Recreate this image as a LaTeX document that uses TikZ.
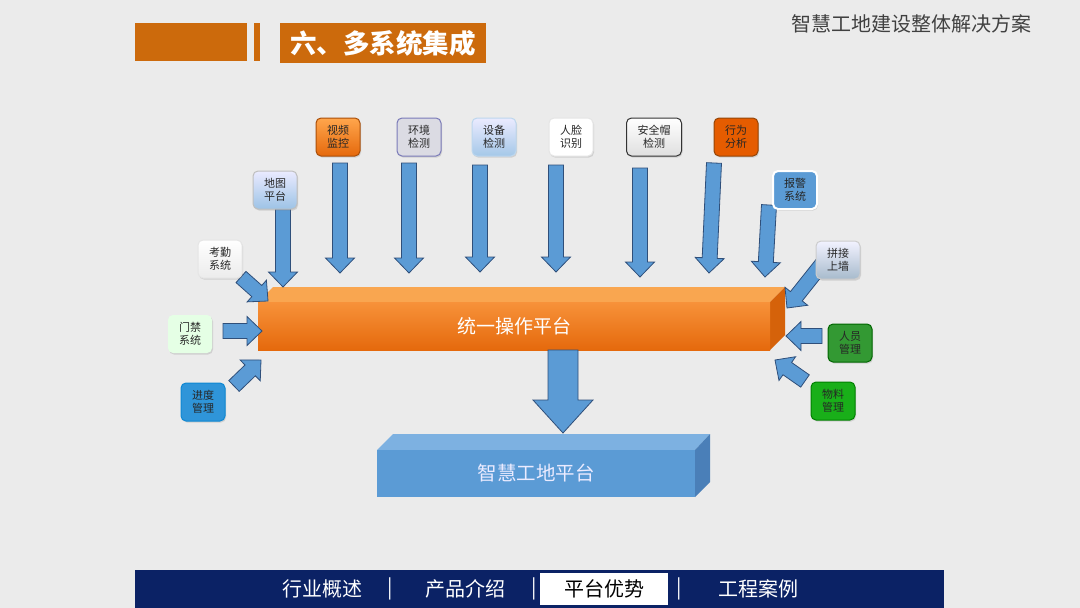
\documentclass[tikz,border=0pt]{standalone}
\usepackage{fontspec}
\setmainfont{Noto Sans CJK SC}
\usetikzlibrary{calc,shadows}
\definecolor{bg}{HTML}{EBEBEB}
\definecolor{hdr}{HTML}{CC6A0C}
\definecolor{navy}{HTML}{0B2265}
\definecolor{arrfill}{HTML}{5B9BD5}
\definecolor{arrline}{HTML}{2F4F7A}
\definecolor{orgA}{HTML}{F7923A}
\definecolor{orgB}{HTML}{E5690C}
\definecolor{orgTop}{HTML}{F9A650}
\definecolor{orgSide}{HTML}{D5620A}
\definecolor{bluFront}{HTML}{5B9BD5}
\definecolor{bluTop}{HTML}{7DB1E1}
\definecolor{bluSide}{HTML}{4A7FB8}
\newcommand\barrow[5]{%
  \coordinate (ba-b) at ($(#2)!#5!(#1)$);
  \draw[arrsty] ($(#1)!#3!90:(#2)$) -- ($(ba-b)!#3!90:(#2)$) -- ($(ba-b)!#4!90:(#2)$) -- (#2)
     -- ($(ba-b)!#4!-90:(#2)$) -- ($(ba-b)!#3!-90:(#2)$) -- ($(#1)!#3!-90:(#2)$) -- cycle;}
\newcommand\sarrow[2]{\barrow{#1}{#2}{7.5pt}{14.5pt}{15pt}}
\begin{document}
\begin{tikzpicture}[x=1pt,y=-1pt,
  arrsty/.style={fill=arrfill, draw=arrline, line width=0.8pt, line join=miter},
  sbox/.style={rounded corners=5pt, minimum width=44pt, minimum height=38pt, align=center,
     font=\fontsize{11}{12.5}\selectfont, text=black!85, line width=1pt, inner sep=1pt,
     drop shadow={opacity=0.25, shadow xshift=1pt, shadow yshift=-1.5pt}},
  navtxt/.style={text=white, font=\fontsize{20}{22}\selectfont, inner sep=0pt}]
\fill[bg] (0,0) rectangle (1080,608);
\useasboundingbox (0,0) rectangle (1080,608);
% header
\fill[hdr] (135,23) rectangle (247,61);
\fill[hdr] (254,23) rectangle (260,61);
\fill[hdr] (280,23) rectangle (486,63);
\node[text=white, font=\fontsize{26.5}{28}\selectfont\bfseries, inner sep=0pt] (title) at (383,43) {六、多系统集成};
\node[text=black!75, font=\fontsize{20}{22}\selectfont, inner sep=0pt] (sub) at (911,24) {智慧工地建设整体解决方案};
% nav bar
\fill[navy] (135,570) rectangle (944,608);
\fill[white] (540,573) rectangle (668,605);
\node[navtxt] (n1) at (322,589) {行业概述};
\node[navtxt] (s1) at (390,589) {|};
\node[navtxt] (n2) at (465,589) {产品介绍};
\node[navtxt] (s2) at (534,589) {|};
\node[navtxt, text=black] (n3) at (604,589) {平台优势};
\node[navtxt] (s3) at (679,589) {|};
\node[navtxt] (n4) at (758,589) {工程案例};
% orange platform (3D)
\fill[orgTop] (258,302) -- (273,287) -- (785,287) -- (770,302) -- cycle;
\fill[orgSide] (770,302) -- (785,287) -- (785,335) -- (770,350) -- cycle;
\shade[top color=orgA, bottom color=orgB] (258,302) rectangle (770,350);
\node[text=white, font=\fontsize{19}{21}\selectfont, inner sep=0pt] (uop) at (514,326) {统一操作平台};
% blue platform (3D)
\fill[bluTop] (377,450) -- (393,434) -- (710,434) -- (695,450) -- cycle;
\fill[bluSide] (695,450) -- (710,434) -- (710,482) -- (695,497) -- cycle;
\fill[bluFront] (377,450) rectangle (695,497);
\node[text=white!92!blue, font=\fontsize{19.5}{21}\selectfont, inner sep=0pt] (zh) at (536,473) {智慧工地平台};
% arrow end points
\coordinate (dt-t) at (283,209); \coordinate (dt-h) at (283,287);
\coordinate (sp-t) at (340,163); \coordinate (sp-h) at (340,273);
\coordinate (hj-t) at (409,163); \coordinate (hj-h) at (409,273);
\coordinate (sb-t) at (480,165); \coordinate (sb-h) at (480,272);
\coordinate (rl-t) at (556,165); \coordinate (rl-h) at (556,272);
\coordinate (aq-t) at (640,168); \coordinate (aq-h) at (640,277);
\coordinate (xw-t) at (714,163); \coordinate (xw-h) at (709,273);
\coordinate (bj-t) at (769,205); \coordinate (bj-h) at (765,277);
\coordinate (pj-t) at (822,264); \coordinate (pj-h) at (787,308);
\coordinate (ry-t) at (822,336); \coordinate (ry-h) at (786,336);
\coordinate (wl-t) at (805,381); \coordinate (wl-h) at (775,360);
\coordinate (kq-t) at (241,277); \coordinate (kq-h) at (268,301);
\coordinate (mj-t) at (223,331); \coordinate (mj-h) at (262,331);
\coordinate (jd-t) at (234,386); \coordinate (jd-h) at (261,360);
\coordinate (uop-b) at (563,350); \coordinate (zh-t) at (563,433);
% arrows
\sarrow{dt-t}{dt-h}
\sarrow{sp-t}{sp-h}
\sarrow{hj-t}{hj-h}
\sarrow{sb-t}{sb-h}
\sarrow{rl-t}{rl-h}
\sarrow{aq-t}{aq-h}
\sarrow{xw-t}{xw-h}
\sarrow{bj-t}{bj-h}
\sarrow{pj-t}{pj-h}
\sarrow{ry-t}{ry-h}
\sarrow{wl-t}{wl-h}
\sarrow{kq-t}{kq-h}
\sarrow{mj-t}{mj-h}
\sarrow{jd-t}{jd-h}
\barrow{uop-b}{zh-t}{15pt}{30pt}{33pt}
% small boxes
\node[sbox, top color=orange!70!white, bottom color=orgB, draw=orgSide!80!black] (sp) at (338,137) {视频\\监控};
\node[sbox, fill=blue!12!gray!25!white, draw=gray!70!blue!80] (hj) at (419,137) {环境\\检测};
\node[sbox, top color=blue!8!white, bottom color=arrfill!55!white, draw=arrfill!40!white] (sb) at (494,137) {设备\\检测};
\node[sbox, fill=white, draw=gray!20] (rl) at (571,137) {人脸\\识别};
\node[sbox, minimum width=55pt, top color=white, bottom color=gray!25, draw=black!80] (aq) at (654,137) {安全帽\\检测};
\node[sbox, fill=orange!80!red!90!black, draw=orgSide!70!black] (xw) at (736,137) {行为\\分析};
\node[sbox, top color=blue!8!white, bottom color=arrfill!60!white, draw=gray!50] (dt) at (275,190) {地图\\平台};
\node[sbox, fill=arrfill, draw=white, line width=2pt] (bj) at (795,190) {报警\\系统};
\node[sbox, top color=white, bottom color=gray!15, draw=gray!20] (kq) at (220,259) {考勤\\系统};
\node[sbox, top color=blue!5!white, bottom color=gray!50!arrfill!60!white, draw=gray!40] (pj) at (838,260) {拼接\\上墙};
\node[sbox, fill=green!10!white, draw=none] (mj) at (190,334) {门禁\\系统};
\node[sbox, fill=green!50!black!80!white, draw=green!40!black] (ry) at (850,343) {人员\\管理};
\node[sbox, fill=cyan!70!blue!85!white, draw=cyan!70!blue] (jd) at (203,402) {进度\\管理};
\node[sbox, fill=green!65!black!90!white, draw=green!50!black] (wl) at (833,401) {物料\\管理};
\end{tikzpicture}
\end{document}
